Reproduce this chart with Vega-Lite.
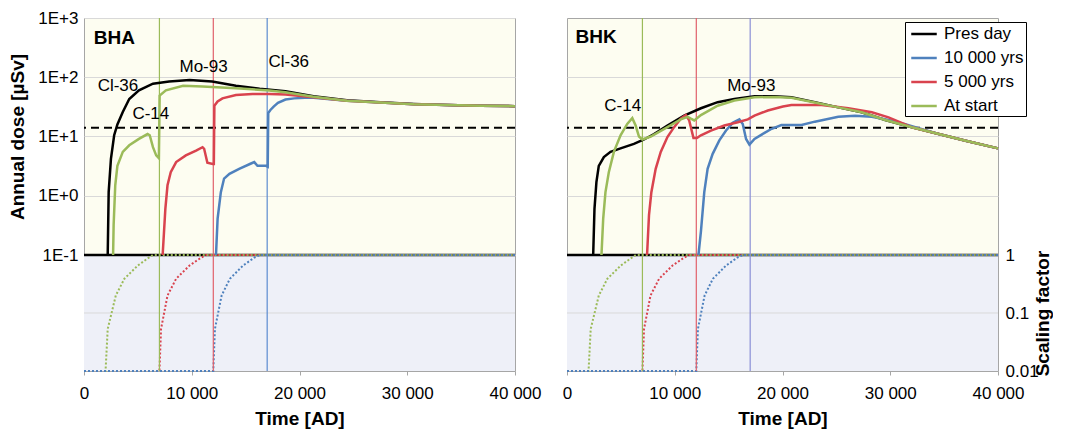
{
"$schema": "https://vega.github.io/schema/vega-lite/v6.json",
"padding": {"left": 8, "top": 8, "right": 0, "bottom": 0},
"bounds": "flush",
"spacing": 52,
"datasets": {
"dose": [
{"p":"BHA","s":"Pres day","t":2200,"d":0.1},{"p":"BHA","s":"Pres day","t":2290,"d":1.15},{"p":"BHA","s":"Pres day","t":2500,"d":4.2},{"p":"BHA","s":"Pres day","t":2800,"d":10.5},{"p":"BHA","s":"Pres day","t":3100,"d":16},{"p":"BHA","s":"Pres day","t":3600,"d":26},{"p":"BHA","s":"Pres day","t":4200,"d":43},{"p":"BHA","s":"Pres day","t":5100,"d":60},{"p":"BHA","s":"Pres day","t":6400,"d":78},{"p":"BHA","s":"Pres day","t":7900,"d":85},{"p":"BHA","s":"Pres day","t":9800,"d":90},{"p":"BHA","s":"Pres day","t":11900,"d":85},{"p":"BHA","s":"Pres day","t":14100,"d":72},{"p":"BHA","s":"Pres day","t":16300,"d":64},{"p":"BHA","s":"Pres day","t":18700,"d":58},{"p":"BHA","s":"Pres day","t":21300,"d":48},{"p":"BHA","s":"Pres day","t":24400,"d":41},{"p":"BHA","s":"Pres day","t":27500,"d":38},{"p":"BHA","s":"Pres day","t":30600,"d":35.5},{"p":"BHA","s":"Pres day","t":33700,"d":34},{"p":"BHA","s":"Pres day","t":36800,"d":33},{"p":"BHA","s":"Pres day","t":40000,"d":32.5},
{"p":"BHA","s":"10 000 yrs","t":12250,"d":0.1},{"p":"BHA","s":"10 000 yrs","t":12400,"d":0.41},{"p":"BHA","s":"10 000 yrs","t":12700,"d":1.15},{"p":"BHA","s":"10 000 yrs","t":13000,"d":1.95},{"p":"BHA","s":"10 000 yrs","t":13500,"d":2.35},{"p":"BHA","s":"10 000 yrs","t":14400,"d":2.85},{"p":"BHA","s":"10 000 yrs","t":15500,"d":3.5},{"p":"BHA","s":"10 000 yrs","t":15800,"d":3.7},{"p":"BHA","s":"10 000 yrs","t":16100,"d":3.2},{"p":"BHA","s":"10 000 yrs","t":16900,"d":3.2},{"p":"BHA","s":"10 000 yrs","t":17050,"d":3.1},{"p":"BHA","s":"10 000 yrs","t":17100,"d":25},{"p":"BHA","s":"10 000 yrs","t":17300,"d":28},{"p":"BHA","s":"10 000 yrs","t":17600,"d":32},{"p":"BHA","s":"10 000 yrs","t":18000,"d":37},{"p":"BHA","s":"10 000 yrs","t":18700,"d":42},{"p":"BHA","s":"10 000 yrs","t":19500,"d":44},{"p":"BHA","s":"10 000 yrs","t":20500,"d":45},{"p":"BHA","s":"10 000 yrs","t":21300,"d":45},{"p":"BHA","s":"10 000 yrs","t":24400,"d":40},{"p":"BHA","s":"10 000 yrs","t":27500,"d":37.5},{"p":"BHA","s":"10 000 yrs","t":30600,"d":35},{"p":"BHA","s":"10 000 yrs","t":33700,"d":34},{"p":"BHA","s":"10 000 yrs","t":36800,"d":33},{"p":"BHA","s":"10 000 yrs","t":40000,"d":32.5},
{"p":"BHA","s":"5 000 yrs","t":7300,"d":0.1},{"p":"BHA","s":"5 000 yrs","t":7550,"d":0.6},{"p":"BHA","s":"5 000 yrs","t":7750,"d":1.5},{"p":"BHA","s":"5 000 yrs","t":8050,"d":2.5},{"p":"BHA","s":"5 000 yrs","t":8550,"d":3.7},{"p":"BHA","s":"5 000 yrs","t":9450,"d":4.8},{"p":"BHA","s":"5 000 yrs","t":10400,"d":5.8},{"p":"BHA","s":"5 000 yrs","t":11000,"d":6.6},{"p":"BHA","s":"5 000 yrs","t":11150,"d":6.2},{"p":"BHA","s":"5 000 yrs","t":11450,"d":3.6},{"p":"BHA","s":"5 000 yrs","t":11950,"d":3.45},{"p":"BHA","s":"5 000 yrs","t":12050,"d":3.45},{"p":"BHA","s":"5 000 yrs","t":12100,"d":33},{"p":"BHA","s":"5 000 yrs","t":12400,"d":39},{"p":"BHA","s":"5 000 yrs","t":12850,"d":44},{"p":"BHA","s":"5 000 yrs","t":14100,"d":50},{"p":"BHA","s":"5 000 yrs","t":15650,"d":52},{"p":"BHA","s":"5 000 yrs","t":17200,"d":52},{"p":"BHA","s":"5 000 yrs","t":18700,"d":51},{"p":"BHA","s":"5 000 yrs","t":21300,"d":46},{"p":"BHA","s":"5 000 yrs","t":24400,"d":40},{"p":"BHA","s":"5 000 yrs","t":27500,"d":37.5},{"p":"BHA","s":"5 000 yrs","t":30600,"d":35},{"p":"BHA","s":"5 000 yrs","t":33700,"d":34},{"p":"BHA","s":"5 000 yrs","t":36800,"d":33},{"p":"BHA","s":"5 000 yrs","t":40000,"d":32.5},
{"p":"BHA","s":"At start","t":2700,"d":0.1},{"p":"BHA","s":"At start","t":2750,"d":0.32},{"p":"BHA","s":"At start","t":2900,"d":1.5},{"p":"BHA","s":"At start","t":3100,"d":3.2},{"p":"BHA","s":"At start","t":3600,"d":5.5},{"p":"BHA","s":"At start","t":4200,"d":7.1},{"p":"BHA","s":"At start","t":5100,"d":9.1},{"p":"BHA","s":"At start","t":5900,"d":11},{"p":"BHA","s":"At start","t":6100,"d":10.5},{"p":"BHA","s":"At start","t":6400,"d":6.6},{"p":"BHA","s":"At start","t":6700,"d":4.8},{"p":"BHA","s":"At start","t":6950,"d":4.3},{"p":"BHA","s":"At start","t":7020,"d":49},{"p":"BHA","s":"At start","t":7600,"d":60},{"p":"BHA","s":"At start","t":9200,"d":72},{"p":"BHA","s":"At start","t":11000,"d":70},{"p":"BHA","s":"At start","t":14100,"d":65},{"p":"BHA","s":"At start","t":17200,"d":60},{"p":"BHA","s":"At start","t":18700,"d":56},{"p":"BHA","s":"At start","t":21300,"d":47},{"p":"BHA","s":"At start","t":24400,"d":40},{"p":"BHA","s":"At start","t":27500,"d":37.5},{"p":"BHA","s":"At start","t":30600,"d":35},{"p":"BHA","s":"At start","t":33700,"d":34},{"p":"BHA","s":"At start","t":36800,"d":33},{"p":"BHA","s":"At start","t":40000,"d":32.5},
{"p":"BHK","s":"Pres day","t":2430,"d":0.1},{"p":"BHK","s":"Pres day","t":2550,"d":0.6},{"p":"BHK","s":"Pres day","t":2730,"d":1.7},{"p":"BHK","s":"Pres day","t":2950,"d":3.2},{"p":"BHK","s":"Pres day","t":3420,"d":4.5},{"p":"BHK","s":"Pres day","t":4040,"d":5.5},{"p":"BHK","s":"Pres day","t":4970,"d":6.3},{"p":"BHK","s":"Pres day","t":6210,"d":7.5},{"p":"BHK","s":"Pres day","t":7150,"d":8.9},{"p":"BHK","s":"Pres day","t":8080,"d":11},{"p":"BHK","s":"Pres day","t":9320,"d":15.3},{"p":"BHK","s":"Pres day","t":10870,"d":22.6},{"p":"BHK","s":"Pres day","t":12430,"d":30},{"p":"BHK","s":"Pres day","t":13980,"d":38},{"p":"BHK","s":"Pres day","t":15530,"d":43},{"p":"BHK","s":"Pres day","t":17400,"d":48},{"p":"BHK","s":"Pres day","t":19260,"d":48},{"p":"BHK","s":"Pres day","t":20830,"d":46},{"p":"BHK","s":"Pres day","t":23000,"d":38},{"p":"BHK","s":"Pres day","t":25180,"d":31},{"p":"BHK","s":"Pres day","t":27350,"d":25.7},{"p":"BHK","s":"Pres day","t":29530,"d":19},{"p":"BHK","s":"Pres day","t":32000,"d":14.3},{"p":"BHK","s":"Pres day","t":34500,"d":11},{"p":"BHK","s":"Pres day","t":37000,"d":8.5},{"p":"BHK","s":"Pres day","t":40000,"d":6.3},
{"p":"BHK","s":"10 000 yrs","t":12200,"d":0.1},{"p":"BHK","s":"10 000 yrs","t":12430,"d":0.25},{"p":"BHK","s":"10 000 yrs","t":12740,"d":1.15},{"p":"BHK","s":"10 000 yrs","t":13050,"d":2.85},{"p":"BHK","s":"10 000 yrs","t":13520,"d":5.1},{"p":"BHK","s":"10 000 yrs","t":14140,"d":8.6},{"p":"BHK","s":"10 000 yrs","t":14760,"d":12.6},{"p":"BHK","s":"10 000 yrs","t":15380,"d":17},{"p":"BHK","s":"10 000 yrs","t":16000,"d":19.4},{"p":"BHK","s":"10 000 yrs","t":16310,"d":16.3},{"p":"BHK","s":"10 000 yrs","t":16620,"d":9.1},{"p":"BHK","s":"10 000 yrs","t":16930,"d":7.3},{"p":"BHK","s":"10 000 yrs","t":17400,"d":9.1},{"p":"BHK","s":"10 000 yrs","t":18330,"d":11.5},{"p":"BHK","s":"10 000 yrs","t":19000,"d":13.5},{"p":"BHK","s":"10 000 yrs","t":19900,"d":15.6},{"p":"BHK","s":"10 000 yrs","t":21760,"d":15.6},{"p":"BHK","s":"10 000 yrs","t":23000,"d":17.8},{"p":"BHK","s":"10 000 yrs","t":25180,"d":21.6},{"p":"BHK","s":"10 000 yrs","t":26730,"d":22.4},{"p":"BHK","s":"10 000 yrs","t":28290,"d":21.6},{"p":"BHK","s":"10 000 yrs","t":29840,"d":19},{"p":"BHK","s":"10 000 yrs","t":31390,"d":16.2},{"p":"BHK","s":"10 000 yrs","t":32640,"d":13.8},{"p":"BHK","s":"10 000 yrs","t":34500,"d":11},{"p":"BHK","s":"10 000 yrs","t":37000,"d":8.5},{"p":"BHK","s":"10 000 yrs","t":40000,"d":6.3},
{"p":"BHK","s":"5 000 yrs","t":7430,"d":0.1},{"p":"BHK","s":"5 000 yrs","t":7610,"d":0.47},{"p":"BHK","s":"5 000 yrs","t":7830,"d":1.15},{"p":"BHK","s":"5 000 yrs","t":8230,"d":2.85},{"p":"BHK","s":"5 000 yrs","t":8700,"d":5.5},{"p":"BHK","s":"5 000 yrs","t":9320,"d":9.8},{"p":"BHK","s":"5 000 yrs","t":9940,"d":14.4},{"p":"BHK","s":"5 000 yrs","t":10560,"d":20},{"p":"BHK","s":"5 000 yrs","t":11030,"d":23},{"p":"BHK","s":"5 000 yrs","t":11340,"d":18.7},{"p":"BHK","s":"5 000 yrs","t":11740,"d":9.4},{"p":"BHK","s":"5 000 yrs","t":12050,"d":9.4},{"p":"BHK","s":"5 000 yrs","t":12430,"d":10.5},{"p":"BHK","s":"5 000 yrs","t":13360,"d":12.6},{"p":"BHK","s":"5 000 yrs","t":14600,"d":15.3},{"p":"BHK","s":"5 000 yrs","t":15850,"d":17.4},{"p":"BHK","s":"5 000 yrs","t":16780,"d":19.4},{"p":"BHK","s":"5 000 yrs","t":17400,"d":22.5},{"p":"BHK","s":"5 000 yrs","t":18640,"d":27.5},{"p":"BHK","s":"5 000 yrs","t":20040,"d":32},{"p":"BHK","s":"5 000 yrs","t":20830,"d":34},{"p":"BHK","s":"5 000 yrs","t":23630,"d":34},{"p":"BHK","s":"5 000 yrs","t":26110,"d":30},{"p":"BHK","s":"5 000 yrs","t":28290,"d":25.7},{"p":"BHK","s":"5 000 yrs","t":29840,"d":21},{"p":"BHK","s":"5 000 yrs","t":31390,"d":16},{"p":"BHK","s":"5 000 yrs","t":32000,"d":14.3},{"p":"BHK","s":"5 000 yrs","t":34500,"d":11},{"p":"BHK","s":"5 000 yrs","t":37000,"d":8.5},{"p":"BHK","s":"5 000 yrs","t":40000,"d":6.3},
{"p":"BHK","s":"At start","t":3200,"d":0.1},{"p":"BHK","s":"At start","t":3360,"d":0.41},{"p":"BHK","s":"At start","t":3570,"d":1.15},{"p":"BHK","s":"At start","t":3880,"d":2.5},{"p":"BHK","s":"At start","t":4350,"d":5.5},{"p":"BHK","s":"At start","t":4970,"d":10.5},{"p":"BHK","s":"At start","t":5590,"d":16.3},{"p":"BHK","s":"At start","t":6060,"d":20.4},{"p":"BHK","s":"At start","t":6370,"d":15.3},{"p":"BHK","s":"At start","t":6680,"d":10},{"p":"BHK","s":"At start","t":6990,"d":8.9},{"p":"BHK","s":"At start","t":7770,"d":10},{"p":"BHK","s":"At start","t":9320,"d":14.4},{"p":"BHK","s":"At start","t":10560,"d":19.5},{"p":"BHK","s":"At start","t":11190,"d":21.5},{"p":"BHK","s":"At start","t":11500,"d":20},{"p":"BHK","s":"At start","t":11810,"d":18.7},{"p":"BHK","s":"At start","t":12430,"d":23},{"p":"BHK","s":"At start","t":13980,"d":33},{"p":"BHK","s":"At start","t":15530,"d":40.5},{"p":"BHK","s":"At start","t":17400,"d":46},{"p":"BHK","s":"At start","t":19260,"d":46.5},{"p":"BHK","s":"At start","t":20830,"d":45},{"p":"BHK","s":"At start","t":23000,"d":37.5},{"p":"BHK","s":"At start","t":25180,"d":31},{"p":"BHK","s":"At start","t":27350,"d":25.7},{"p":"BHK","s":"At start","t":29530,"d":19},{"p":"BHK","s":"At start","t":32000,"d":14.3},{"p":"BHK","s":"At start","t":34500,"d":11},{"p":"BHK","s":"At start","t":37000,"d":8.5},{"p":"BHK","s":"At start","t":40000,"d":6.3}
],
"sf": [
{"s":"Pres day","t":0,"f":1},{"s":"Pres day","t":40000,"f":1},
{"s":"At start","t":0,"f":0.01},{"s":"At start","t":2000,"f":0.01},{"s":"At start","t":2200,"f":0.053},{"s":"At start","t":2950,"f":0.2},{"s":"At start","t":3750,"f":0.39},{"s":"At start","t":5000,"f":0.66},{"s":"At start","t":6050,"f":0.91},{"s":"At start","t":6400,"f":1},{"s":"At start","t":40000,"f":1},
{"s":"5 000 yrs","t":0,"f":0.01},{"s":"5 000 yrs","t":7000,"f":0.01},{"s":"5 000 yrs","t":7150,"f":0.053},{"s":"5 000 yrs","t":7750,"f":0.2},{"s":"5 000 yrs","t":8550,"f":0.39},{"s":"5 000 yrs","t":9800,"f":0.66},{"s":"5 000 yrs","t":10900,"f":0.91},{"s":"5 000 yrs","t":11350,"f":1},{"s":"5 000 yrs","t":40000,"f":1},
{"s":"10 000 yrs","t":0,"f":0.01},{"s":"10 000 yrs","t":12000,"f":0.01},{"s":"10 000 yrs","t":12150,"f":0.053},{"s":"10 000 yrs","t":12770,"f":0.2},{"s":"10 000 yrs","t":13540,"f":0.39},{"s":"10 000 yrs","t":14770,"f":0.66},{"s":"10 000 yrs","t":15850,"f":0.91},{"s":"10 000 yrs","t":16300,"f":1},{"s":"10 000 yrs","t":40000,"f":1}
],
"ann": [
{"p":"BHA","txt":"Mo-93","t":11100,"d":149},{"p":"BHA","txt":"Cl-36","t":3150,"d":71},{"p":"BHA","txt":"C-14","t":6200,"d":24},{"p":"BHA","txt":"Cl-36","t":19000,"d":181},
{"p":"BHK","txt":"C-14","t":5170,"d":33},{"p":"BHK","txt":"Mo-93","t":17100,"d":71}
],
"panels": [{"p":"BHA","t":900,"d":457},{"p":"BHK","t":800,"d":478}]
},
"resolve": {"scale": {"color": "independent"}, "legend": {"color": "independent"}},
"hconcat": [
{
"width": 431, "height": 353,
"resolve": {"scale": {"y": "independent"}, "axis": {"y": "independent"}},
"layer": [
{"layer": [
{"data": {"name": "panels"}, "transform": [{"filter": "datum.p === 'BHA'"}],
 "mark": {"type": "rect", "fill": "#eef0f8"},
 "encoding": {"x": {"datum": 0, "type": "quantitative", "scale": {"domain": [0, 40000], "nice": false}}, "x2": {"datum": 40000},
  "y": {"datum": 0.01, "type": "quantitative", "scale": {"type": "log", "domain": [0.01, 1], "range": [353, 237], "nice": false}, "axis": null}, "y2": {"datum": 1}}},
{"data": {"name": "panels"}, "transform": [{"filter": "datum.p === 'BHA'"}],
 "mark": {"type": "rule", "stroke": "#d9d9d9", "strokeWidth": 1},
 "encoding": {"y": {"datum": 0.1, "type": "quantitative", "axis": null}}},
{"data": {"name": "sf"}, "transform": [{"filter": "datum.s === 'Pres day'"}],
 "mark": {"type": "line", "stroke": "#000000", "strokeWidth": 2.5},
 "encoding": {"x": {"field": "t", "type": "quantitative", "axis": {"title": "Time [AD]", "values": [0, 10000, 20000, 30000, 40000], "labelExpr": "replace(format(datum.value, ','), ',', ' ')", "labelFlush": false, "grid": false, "tickSize": 4, "labelPadding": 10, "titlePadding": 8}},
  "y": {"field": "f", "type": "quantitative", "axis": null}}},
{"data": {"name": "sf"}, "transform": [{"filter": "datum.s !== 'Pres day'"}],
 "mark": {"type": "line", "strokeWidth": 2, "strokeDash": [2, 2]},
 "encoding": {"x": {"field": "t", "type": "quantitative"},
  "y": {"field": "f", "type": "quantitative", "axis": null},
  "stroke": {"field": "s", "type": "nominal", "scale": {"domain": ["10 000 yrs", "5 000 yrs", "At start"], "range": ["#4f81bd", "#d9434e", "#9bbb59"]}, "legend": null}}}
]},
{"layer": [
{"data": {"name": "panels"}, "transform": [{"filter": "datum.p === 'BHA'"}],
 "mark": {"type": "rule", "stroke": "#9bbb59", "strokeWidth": 1.2}, "encoding": {"x": {"datum": 7000, "type": "quantitative"}}},
{"data": {"name": "panels"}, "transform": [{"filter": "datum.p === 'BHA'"}],
 "mark": {"type": "rule", "stroke": "#e0606a", "strokeWidth": 1.2}, "encoding": {"x": {"datum": 12000, "type": "quantitative"}}},
{"data": {"name": "panels"}, "transform": [{"filter": "datum.p === 'BHA'"}],
 "mark": {"type": "rule", "stroke": "#5b8bd0", "strokeWidth": 1.2}, "encoding": {"x": {"datum": 17000, "type": "quantitative"}}},
{"data": {"name": "panels"}, "transform": [{"filter": "datum.p === 'BHA'"}],
 "mark": {"type": "rule", "stroke": "#000000", "strokeWidth": 2, "strokeDash": [8, 5]},
 "encoding": {"y": {"datum": 14, "type": "quantitative", "scale": {"type": "log", "domain": [0.1, 1000], "range": [237, 0], "nice": false}}}},
{"data": {"name": "dose"}, "transform": [{"filter": "datum.p === 'BHA' && datum.s === 'Pres day'"}],
 "mark": {"type": "line", "strokeWidth": 2.5},
 "encoding": {"x": {"field": "t", "type": "quantitative"},
  "y": {"field": "d", "type": "quantitative", "axis": {"title": "Annual dose [µSv]", "values": [0.1, 1, 10, 100, 1000], "labelExpr": "datum.value >= 1000 ? '1E+3' : datum.value >= 100 ? '1E+2' : datum.value >= 10 ? '1E+1' : datum.value >= 1 ? '1E+0' : '1E-1'", "grid": true, "ticks": false, "labelPadding": 6, "titlePadding": 10}},
  "color": {"field": "s", "type": "nominal", "title": null, "scale": {"domain": ["Pres day", "10 000 yrs", "5 000 yrs", "At start"], "range": ["#000000", "#4f81bd", "#d9434e", "#9bbb59"]}, "legend": null}}},
{"data": {"name": "dose"}, "transform": [{"filter": "datum.p === 'BHA' && datum.s === '10 000 yrs'"}],
 "mark": {"type": "line", "strokeWidth": 2.5},
 "encoding": {"x": {"field": "t", "type": "quantitative"}, "y": {"field": "d", "type": "quantitative"},
  "color": {"field": "s", "type": "nominal", "title": null, "legend": null}}},
{"data": {"name": "dose"}, "transform": [{"filter": "datum.p === 'BHA' && datum.s === '5 000 yrs'"}],
 "mark": {"type": "line", "strokeWidth": 2.5},
 "encoding": {"x": {"field": "t", "type": "quantitative"}, "y": {"field": "d", "type": "quantitative"},
  "color": {"field": "s", "type": "nominal", "title": null, "legend": null}}},
{"data": {"name": "dose"}, "transform": [{"filter": "datum.p === 'BHA' && datum.s === 'At start'"}],
 "mark": {"type": "line", "strokeWidth": 2.5},
 "encoding": {"x": {"field": "t", "type": "quantitative"}, "y": {"field": "d", "type": "quantitative"},
  "color": {"field": "s", "type": "nominal", "title": null, "legend": null}}},
{"data": {"name": "ann"}, "transform": [{"filter": "datum.p === 'BHA'"}],
 "mark": {"type": "text", "fontSize": 17, "align": "center", "baseline": "middle", "color": "#000"},
 "encoding": {"x": {"field": "t", "type": "quantitative"}, "y": {"field": "d", "type": "quantitative"}, "text": {"field": "txt"}}},
{"data": {"name": "panels"}, "transform": [{"filter": "datum.p === 'BHA'"}],
 "mark": {"type": "text", "fontSize": 19, "fontWeight": "bold", "align": "left", "baseline": "middle", "color": "#000"},
 "encoding": {"x": {"field": "t", "type": "quantitative"}, "y": {"field": "d", "type": "quantitative"}, "text": {"field": "p"}}}
]}
]
},
{
"width": 431, "height": 353,
"resolve": {"scale": {"y": "independent"}, "axis": {"y": "independent"}},
"layer": [
{"layer": [
{"data": {"name": "panels"}, "transform": [{"filter": "datum.p === 'BHK'"}],
 "mark": {"type": "rect", "fill": "#eef0f8"},
 "encoding": {"x": {"datum": 0, "type": "quantitative", "scale": {"domain": [0, 40000], "nice": false}}, "x2": {"datum": 40000},
  "y": {"datum": 0.01, "type": "quantitative", "scale": {"type": "log", "domain": [0.01, 1], "range": [353, 237], "nice": false}}, "y2": {"datum": 1}}},
{"data": {"name": "panels"}, "transform": [{"filter": "datum.p === 'BHK'"}],
 "mark": {"type": "rule", "stroke": "#d9d9d9", "strokeWidth": 1},
 "encoding": {"y": {"datum": 0.1, "type": "quantitative"}}},
{"data": {"name": "sf"}, "transform": [{"filter": "datum.s === 'Pres day'"}],
 "mark": {"type": "line", "stroke": "#000000", "strokeWidth": 2.5},
 "encoding": {"x": {"field": "t", "type": "quantitative", "axis": {"title": "Time [AD]", "values": [0, 10000, 20000, 30000, 40000], "labelExpr": "replace(format(datum.value, ','), ',', ' ')", "labelFlush": false, "grid": false, "tickSize": 4, "labelPadding": 10, "titlePadding": 8}},
  "y": {"field": "f", "type": "quantitative", "axis": {"orient": "right", "title": "Scaling factor", "values": [0.01, 0.1, 1], "labelExpr": "datum.value >= 1 ? '1' : datum.value >= 0.1 ? '0.1' : '0.01'", "grid": false, "ticks": false, "labelPadding": 7, "titlePadding": 14, "titleAngle": 270}}}},
{"data": {"name": "sf"}, "transform": [{"filter": "datum.s !== 'Pres day'"}],
 "mark": {"type": "line", "strokeWidth": 2, "strokeDash": [2, 2]},
 "encoding": {"x": {"field": "t", "type": "quantitative"},
  "y": {"field": "f", "type": "quantitative"},
  "stroke": {"field": "s", "type": "nominal", "scale": {"domain": ["10 000 yrs", "5 000 yrs", "At start"], "range": ["#4f81bd", "#d9434e", "#9bbb59"]}, "legend": null}}}
]},
{"layer": [
{"data": {"name": "panels"}, "transform": [{"filter": "datum.p === 'BHK'"}],
 "mark": {"type": "rule", "stroke": "#9bbb59", "strokeWidth": 1.2}, "encoding": {"x": {"datum": 7000, "type": "quantitative"}}},
{"data": {"name": "panels"}, "transform": [{"filter": "datum.p === 'BHK'"}],
 "mark": {"type": "rule", "stroke": "#e0606a", "strokeWidth": 1.2}, "encoding": {"x": {"datum": 12000, "type": "quantitative"}}},
{"data": {"name": "panels"}, "transform": [{"filter": "datum.p === 'BHK'"}],
 "mark": {"type": "rule", "stroke": "#8a8fd6", "strokeWidth": 1.2}, "encoding": {"x": {"datum": 17000, "type": "quantitative"}}},
{"data": {"name": "panels"}, "transform": [{"filter": "datum.p === 'BHK'"}],
 "mark": {"type": "rule", "stroke": "#000000", "strokeWidth": 2, "strokeDash": [8, 5]},
 "encoding": {"y": {"datum": 14, "type": "quantitative", "scale": {"type": "log", "domain": [0.1, 1000], "range": [237, 0], "nice": false}}}},
{"data": {"name": "dose"}, "transform": [{"filter": "datum.p === 'BHK' && datum.s === 'Pres day'"}],
 "mark": {"type": "line", "strokeWidth": 2.5},
 "encoding": {"x": {"field": "t", "type": "quantitative"},
  "y": {"field": "d", "type": "quantitative", "axis": {"title": null, "values": [1, 10, 100], "labels": false, "grid": true, "ticks": false}},
  "color": {"field": "s", "type": "nominal", "title": null, "scale": {"domain": ["Pres day", "10 000 yrs", "5 000 yrs", "At start"], "range": ["#000000", "#4f81bd", "#d9434e", "#9bbb59"]}, "legend": {"orient": "none", "legendX": 338, "legendY": 4}}}},
{"data": {"name": "dose"}, "transform": [{"filter": "datum.p === 'BHK' && datum.s === '10 000 yrs'"}],
 "mark": {"type": "line", "strokeWidth": 2.5},
 "encoding": {"x": {"field": "t", "type": "quantitative"}, "y": {"field": "d", "type": "quantitative"},
  "color": {"field": "s", "type": "nominal", "title": null, "legend": {"orient": "none", "legendX": 338, "legendY": 4}}}},
{"data": {"name": "dose"}, "transform": [{"filter": "datum.p === 'BHK' && datum.s === '5 000 yrs'"}],
 "mark": {"type": "line", "strokeWidth": 2.5},
 "encoding": {"x": {"field": "t", "type": "quantitative"}, "y": {"field": "d", "type": "quantitative"},
  "color": {"field": "s", "type": "nominal", "title": null, "legend": {"orient": "none", "legendX": 338, "legendY": 4}}}},
{"data": {"name": "dose"}, "transform": [{"filter": "datum.p === 'BHK' && datum.s === 'At start'"}],
 "mark": {"type": "line", "strokeWidth": 2.5},
 "encoding": {"x": {"field": "t", "type": "quantitative"}, "y": {"field": "d", "type": "quantitative"},
  "color": {"field": "s", "type": "nominal", "title": null, "legend": {"orient": "none", "legendX": 338, "legendY": 4}}}},
{"data": {"name": "ann"}, "transform": [{"filter": "datum.p === 'BHK'"}],
 "mark": {"type": "text", "fontSize": 17, "align": "center", "baseline": "middle", "color": "#000"},
 "encoding": {"x": {"field": "t", "type": "quantitative"}, "y": {"field": "d", "type": "quantitative"}, "text": {"field": "txt"}}},
{"data": {"name": "panels"}, "transform": [{"filter": "datum.p === 'BHK'"}],
 "mark": {"type": "text", "fontSize": 19, "fontWeight": "bold", "align": "left", "baseline": "middle", "color": "#000"},
 "encoding": {"x": {"field": "t", "type": "quantitative"}, "y": {"field": "d", "type": "quantitative"}, "text": {"field": "p"}}}
]}
]
}
],
"config": {
"font": "Liberation Sans",
"view": {"stroke": "#a6a6a6", "fill": "#fdfdf1"},
"axis": {"labelFontSize": 17, "titleFontSize": 19, "titleFontWeight": "bold", "labelColor": "#000", "titleColor": "#000", "domain": false, "gridColor": "#d9d9d9", "tickColor": "#a6a6a6", "labelFont": "Liberation Sans", "titleFont": "Liberation Sans"},
"legend": {"labelFontSize": 17, "labelFont": "Liberation Sans", "labelColor": "#000", "rowPadding": 6, "symbolType": "M-1.5,0H1.5", "symbolStrokeWidth": 2.5, "symbolSize": 289, "symbolOffset": 7, "padding": 2, "strokeColor": "#000", "fillColor": "#fff", "labelLimit": 0, "labelOffset": 10},
"text": {"font": "Liberation Sans"}
}
}
